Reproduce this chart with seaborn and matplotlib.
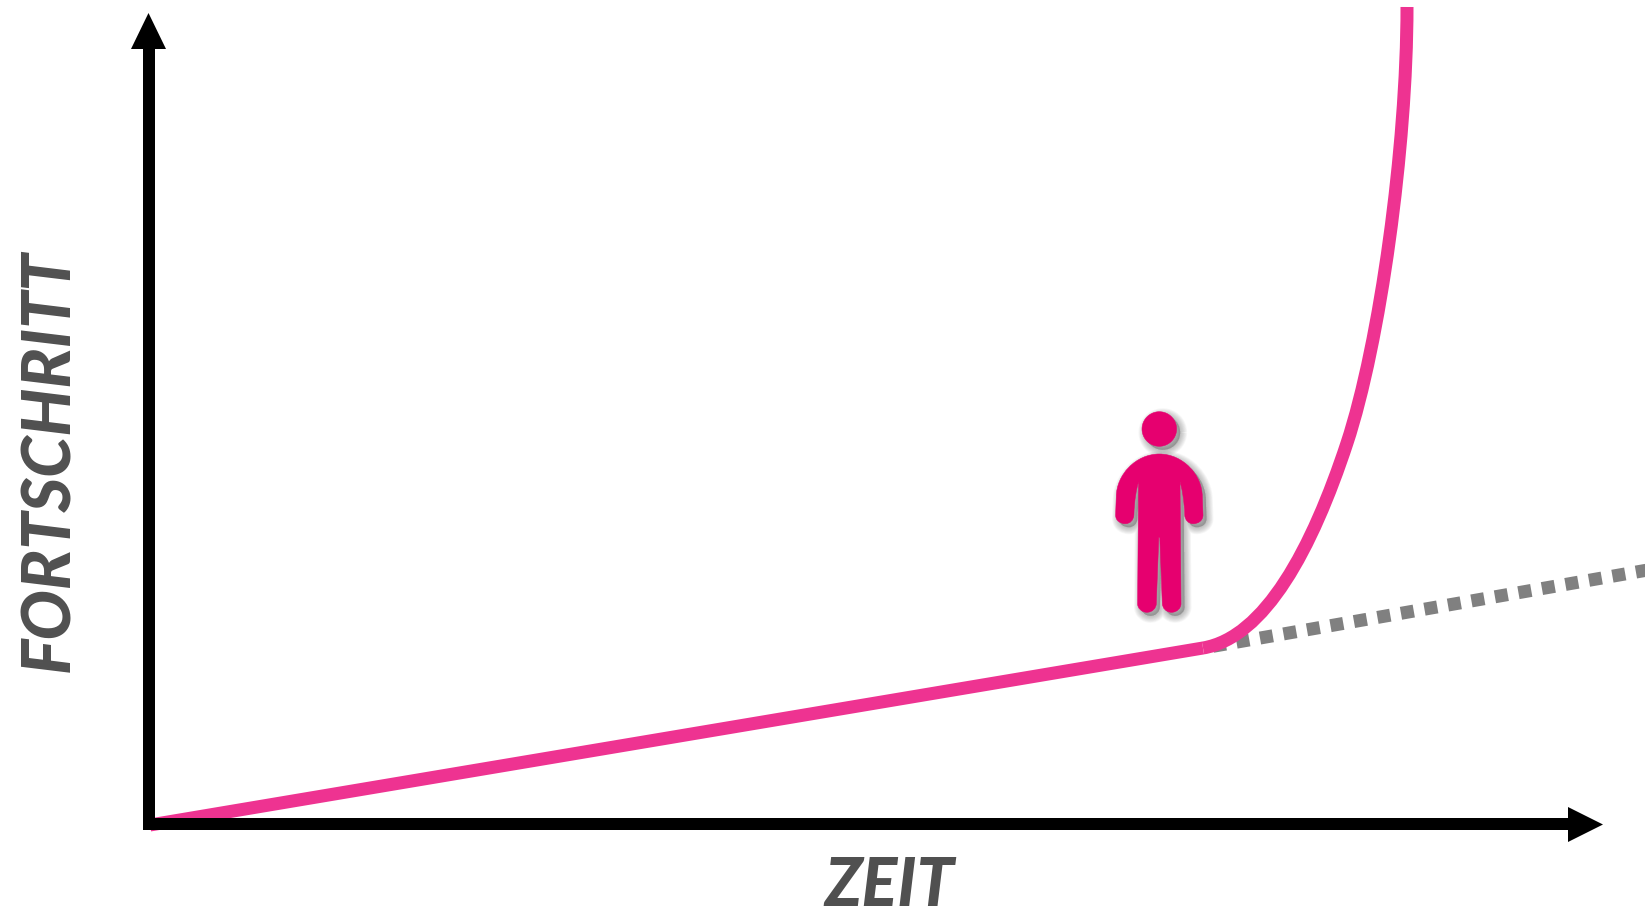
import numpy as np
import pandas as pd
import matplotlib
matplotlib.use("Agg")
import matplotlib.pyplot as plt
from matplotlib.path import Path
from matplotlib.patches import PathPatch
import seaborn as sns

# -------------------
# Values (pixel grid of the reference)
linear_x = [150, 1203]
linear_y = [825, 648]

# curve is two bezier segments, as in the drawing
curve_x = [1203, 1265, 1312, 1347, 1380, 1407, 1407]
curve_y = [648, 637.5, 549, 443, 343, 147, 7]

trend_x = [1213, 1650]
trend_y = [646.3, 569.6]

yaxis_x = [149, 149]
yaxis_y = [830, 45]
xaxis_x = [143, 1570]
xaxis_y = [824, 824]
yhead_x = [131, 148.5, 166]
yhead_y = [49, 13, 49]
xhead_x = [1568, 1603, 1568]
xhead_y = [807, 824.5, 842]

# person outline, right half, left half is mirrored around person_mid
person_mid = 1159.3
person_x = [1159.3, 1183, 1202.3, 1202.3, 1203, 1203, 1198.3, 1193.3, 1188.3, 1185, 1184.7, 1184.3, 1182, 1180,
            1181, 1181.3, 1177, 1171.7, 1166, 1162.3, 1162.3, 1159.8]
person_y = [454, 454, 475, 496.7, 515, 520.7, 523.7, 523.7, 523.7, 520, 515, 500, 488, 481.7,
            603.3, 608, 612.3, 612.3, 612.3, 608, 603.3, 537.3]
person_codes = [Path.MOVETO, Path.CURVE4, Path.CURVE4, Path.CURVE4, Path.LINETO,
                Path.CURVE4, Path.CURVE4, Path.CURVE4, Path.CURVE4, Path.CURVE4, Path.CURVE4,
                Path.CURVE4, Path.CURVE4, Path.CURVE4, Path.LINETO,
                Path.CURVE4, Path.CURVE4, Path.CURVE4, Path.CURVE4, Path.CURVE4, Path.CURVE4, Path.LINETO]
head_x = [1159.3]
head_y = [429]
head_r = [17.3]

x_label = "ZEIT"
y_label = "FORTSCHRITT"

PINK = "#EE3391"
PERSON = "#E6006F"
GREY = "#808080"
TEXT = "#505050"

# -------------------
sns.set_theme(style="white")
plt.rcParams['font.family'] = ['Lato', 'DejaVu Sans']

fig = plt.figure(figsize=(16.45, 9.09), dpi=100)
ax = fig.add_axes([0, 0, 1, 1])
ax.set_xlim(0, 1645)
ax.set_ylim(909, 0)
ax.set_axis_off()

px = 72 / fig.dpi  # one pixel in points
axis_w = 12 * px
line_w = 13 * px

# dotted trend
trend_df = pd.DataFrame({'x': trend_x, 'y': trend_y})
sns.lineplot(data=trend_df, x='x', y='y', ax=ax, color=GREY, estimator=None, sort=False, zorder=2)
ax.lines[-1].set(linewidth=line_w, linestyle=(0, (1, 0.835)), dash_capstyle='butt')

# pink line and curve
linear_df = pd.DataFrame({'x': linear_x, 'y': linear_y})
sns.lineplot(data=linear_df, x='x', y='y', ax=ax, color=PINK, estimator=None, sort=False, zorder=3)
ax.lines[-1].set(linewidth=line_w, solid_capstyle='butt')

curve_codes = [Path.MOVETO] + [Path.CURVE4] * 6
curve_path = Path(np.column_stack([curve_x, curve_y]), curve_codes)
ax.add_patch(PathPatch(curve_path, facecolor='none', edgecolor=PINK, lw=line_w, capstyle='butt', zorder=3))

# axes with arrow heads
ax.plot(yaxis_x, yaxis_y, color='black', lw=axis_w, solid_capstyle='butt', zorder=4)
ax.plot(xaxis_x, xaxis_y, color='black', lw=axis_w, solid_capstyle='butt', zorder=4)
ax.fill(yhead_x, yhead_y, color='black', lw=0, zorder=4)
ax.fill(xhead_x, xhead_y, color='black', lw=0, zorder=4)

# person
right = np.column_stack([person_x, person_y])
left = np.column_stack([2 * person_mid - right[:, 0], right[:, 1]])
body = np.vstack([right, left[::-1]])
body_codes = person_codes + [Path.LINETO] + person_codes[:0:-1]
theta = np.radians(np.arange(0, 361, 5))
head = np.column_stack([head_x[0] + head_r[0] * np.cos(theta), head_y[0] + head_r[0] * np.sin(theta)])
shapes = [(body, body_codes), (head, None)]

# soft shadow: stacked translucent strokes
for grow in [14, 12.5, 11, 9.5, 8, 6.5, 5, 3.5, 2, 0.5]:
    for verts, codes in shapes:
        ax.add_patch(PathPatch(Path(verts + 3.5, codes), facecolor='#505050', edgecolor='#505050', alpha=0.045,
                               lw=grow * px, joinstyle='round', zorder=5))
for verts, codes in shapes:
    ax.add_patch(PathPatch(Path(verts, codes), facecolor=PERSON, edgecolor=PERSON, lw=0.5 * px, zorder=6))

# labels
ax.text(889, 887, x_label, ha='center', va='center', fontsize=48, fontweight='black', fontstyle='italic', color=TEXT)
ax.text(50, 461, y_label, ha='center', va='center', rotation=90, fontsize=48, fontweight='black',
        fontstyle='italic', color=TEXT)

fig.savefig("out.png", dpi=100, facecolor='white')
